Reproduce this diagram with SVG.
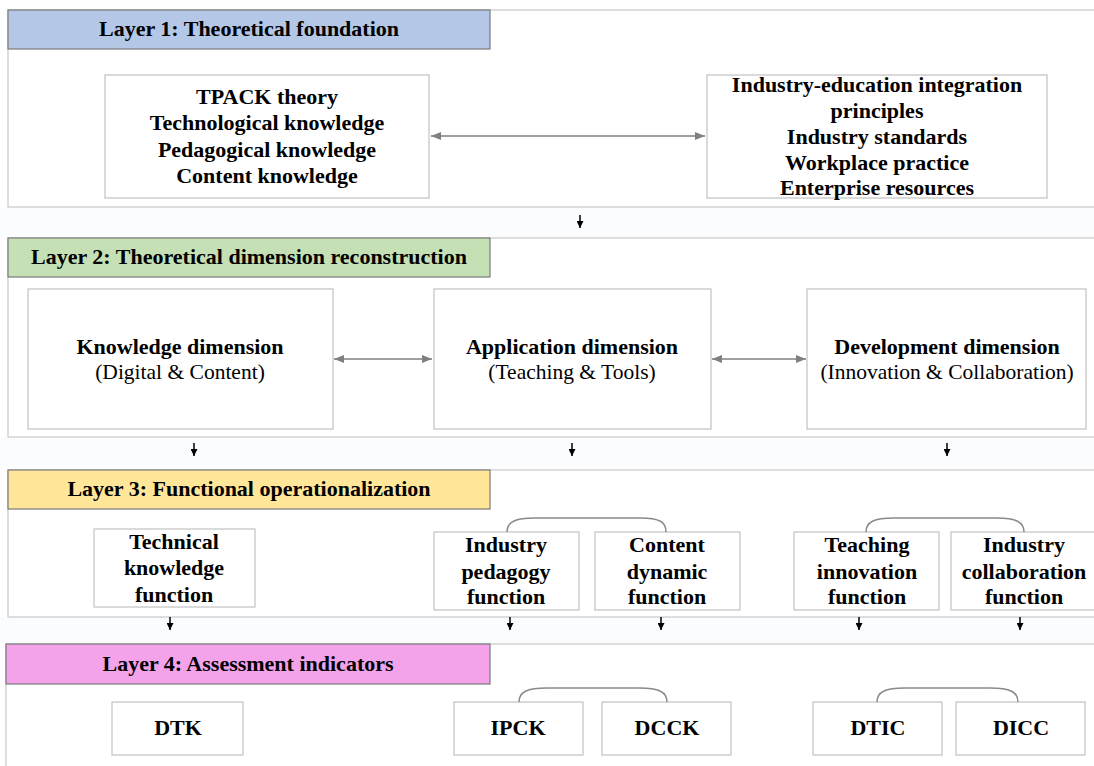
<svg xmlns="http://www.w3.org/2000/svg" width="1094" height="766" viewBox="0 0 1094 766">
<style>
.panel{fill:#ffffff;stroke:#c8c8c8;stroke-width:1.2}
.band{fill:#fbfcfe;stroke:none}
.hdr{stroke:#7a7a7a;stroke-width:1.2}
.box{fill:#ffffff;stroke:#c2c2c2;stroke-width:1.2}
.t{font-family:"Liberation Serif","Times New Roman",serif;font-size:21.5px;fill:#000;text-anchor:middle}
.b{font-weight:bold;font-size:22px}
.dbl{stroke:#808080;stroke-width:1.6;fill:none}
.dn{stroke:#000;stroke-width:1.5;fill:none}
.br{stroke:#8a8a8a;stroke-width:1.5;fill:none}
</style>
<defs>
<marker id="ga" viewBox="0 0 10 10" refX="10" refY="5" markerWidth="10" markerHeight="10" markerUnits="userSpaceOnUse" orient="auto-start-reverse">
<path d="M0,1 L10,5 L0,9 z" fill="#808080"/>
</marker>
<marker id="ba" viewBox="0 0 10 10" refX="10" refY="5" markerWidth="7" markerHeight="7" markerUnits="userSpaceOnUse" orient="auto">
<path d="M0,0 L10,5 L0,10 z" fill="#000"/>
</marker>
</defs>
<rect width="1094" height="766" fill="#ffffff"/>

<!-- bands -->
<rect class="band" x="0" y="207" width="1094" height="31"/>
<rect class="band" x="0" y="437" width="1094" height="32"/>
<rect class="band" x="0" y="617" width="1094" height="27"/>

<!-- Layer 1 -->
<g id="layer1">
<rect class="panel" x="8" y="10" width="1100" height="197"/>
<rect class="hdr" x="8" y="10" width="482" height="39" fill="#b4c7e7"/>
<text class="t b" x="249" y="36">Layer 1: Theoretical foundation</text>
</g>
<g id="tpack">
<rect class="box" x="105" y="75" width="324" height="123"/>
<text class="t b" x="267" y="104">TPACK theory</text>
<text class="t b" x="267" y="130">Technological knowledge</text>
<text class="t b" x="267" y="157">Pedagogical knowledge</text>
<text class="t b" x="267" y="183">Content knowledge</text>
</g>
<g id="industry">
<rect class="box" x="707" y="75" width="340" height="123"/>
<text class="t b" x="877" y="92">Industry-education integration</text>
<text class="t b" x="877" y="118">principles</text>
<text class="t b" x="877" y="144">Industry standards</text>
<text class="t b" x="877" y="170">Workplace practice</text>
<text class="t b" x="877" y="195">Enterprise resources</text>
</g>

<!-- Layer 2 -->
<g id="layer2">
<rect class="panel" x="8" y="238" width="1100" height="199"/>
<rect class="hdr" x="8" y="238" width="482" height="39" fill="#c5e0b4" stroke="#a9c99a"/>
<text class="t b" x="249" y="264">Layer 2: Theoretical dimension reconstruction</text>
</g>
<g id="knowledge">
<rect class="box" x="28" y="289" width="305" height="140"/>
<text class="t b" x="180" y="354">Knowledge dimension</text>
<text class="t" x="180" y="379">(Digital &amp; Content)</text>
</g>
<g id="application">
<rect class="box" x="434" y="289" width="277" height="140"/>
<text class="t b" x="572" y="354">Application dimension</text>
<text class="t" x="572" y="379">(Teaching &amp; Tools)</text>
</g>
<g id="development">
<rect class="box" x="807" y="289" width="279" height="140"/>
<text class="t b" x="947" y="354">Development dimension</text>
<text class="t" x="947" y="379">(Innovation &amp; Collaboration)</text>
</g>

<!-- Layer 3 -->
<g id="layer3">
<rect class="panel" x="8" y="470" width="1100" height="147"/>
<rect class="hdr" x="8" y="470" width="482" height="39" fill="#ffe699"/>
<text class="t b" x="249" y="496">Layer 3: Functional operationalization</text>
</g>
<g id="technical">
<rect class="box" x="94" y="529" width="161" height="78"/>
<text class="t b" x="174" y="549">Technical</text>
<text class="t b" x="174" y="575">knowledge</text>
<text class="t b" x="174" y="602">function</text>
</g>
<g id="indped">
<rect class="box" x="434" y="532" width="145" height="78"/>
<text class="t b" x="506" y="552">Industry</text>
<text class="t b" x="506" y="579">pedagogy</text>
<text class="t b" x="506" y="604">function</text>
</g>
<g id="contdyn">
<rect class="box" x="595" y="532" width="145" height="78"/>
<text class="t b" x="667" y="552">Content</text>
<text class="t b" x="667" y="579">dynamic</text>
<text class="t b" x="667" y="604">function</text>
</g>
<g id="teachinn">
<rect class="box" x="794" y="532" width="145" height="78"/>
<text class="t b" x="867" y="552">Teaching</text>
<text class="t b" x="867" y="579">innovation</text>
<text class="t b" x="867" y="604">function</text>
</g>
<g id="indcoll">
<rect class="box" x="951" y="532" width="145" height="78"/>
<text class="t b" x="1024" y="552">Industry</text>
<text class="t b" x="1024" y="579">collaboration</text>
<text class="t b" x="1024" y="604">function</text>
</g>

<!-- Layer 4 -->
<g id="layer4">
<rect class="panel" x="6" y="644" width="1100" height="130"/>
<rect class="hdr" x="6" y="644" width="484" height="40" fill="#f4a3ea"/>
<text class="t b" x="248" y="671">Layer 4: Assessment indicators</text>
</g>
<g id="dtk">
<rect class="box" x="112" y="702" width="131" height="53"/>
<text class="t b" x="178" y="735">DTK</text>
</g>
<g id="ipck">
<rect class="box" x="454" y="702" width="129" height="53"/>
<text class="t b" x="518" y="735">IPCK</text>
</g>
<g id="dcck">
<rect class="box" x="602" y="702" width="129" height="53"/>
<text class="t b" x="667" y="735">DCCK</text>
</g>
<g id="dtic">
<rect class="box" x="813" y="702" width="129" height="53"/>
<text class="t b" x="878" y="735">DTIC</text>
</g>
<g id="dicc">
<rect class="box" x="956" y="702" width="129" height="53"/>
<text class="t b" x="1021" y="735">DICC</text>
</g>

<!-- connectors -->
<g id="connectors">
<line class="dbl" x1="431" y1="136" x2="705" y2="136" marker-start="url(#ga)" marker-end="url(#ga)"/>
<line class="dbl" x1="334" y1="359" x2="432" y2="359" marker-start="url(#ga)" marker-end="url(#ga)"/>
<line class="dbl" x1="712" y1="359" x2="806" y2="359" marker-start="url(#ga)" marker-end="url(#ga)"/>

<line class="dn" x1="580" y1="215" x2="580" y2="228" marker-end="url(#ba)"/>
<line class="dn" x1="194" y1="443" x2="194" y2="456" marker-end="url(#ba)"/>
<line class="dn" x1="572" y1="443" x2="572" y2="456" marker-end="url(#ba)"/>
<line class="dn" x1="947" y1="443" x2="947" y2="456" marker-end="url(#ba)"/>
<line class="dn" x1="170" y1="617" x2="170" y2="630" marker-end="url(#ba)"/>
<line class="dn" x1="510" y1="617" x2="510" y2="630" marker-end="url(#ba)"/>
<line class="dn" x1="661" y1="617" x2="661" y2="630" marker-end="url(#ba)"/>
<line class="dn" x1="859" y1="617" x2="859" y2="630" marker-end="url(#ba)"/>
<line class="dn" x1="1020" y1="617" x2="1020" y2="630" marker-end="url(#ba)"/>

<path class="br" d="M507,532 C507,522 515,518 535,518 L640,518 C660,518 666,522 666,532"/>
<path class="br" d="M866,532 C866,522 874,518 894,518 L996,518 C1016,518 1024,522 1024,532"/>
<path class="br" d="M519,702 C519,692 527,688 547,688 L639,688 C659,688 667,692 667,702"/>
<path class="br" d="M877,702 C877,692 885,688 905,688 L990,688 C1010,688 1018,692 1018,702"/>
</g>
</svg>
